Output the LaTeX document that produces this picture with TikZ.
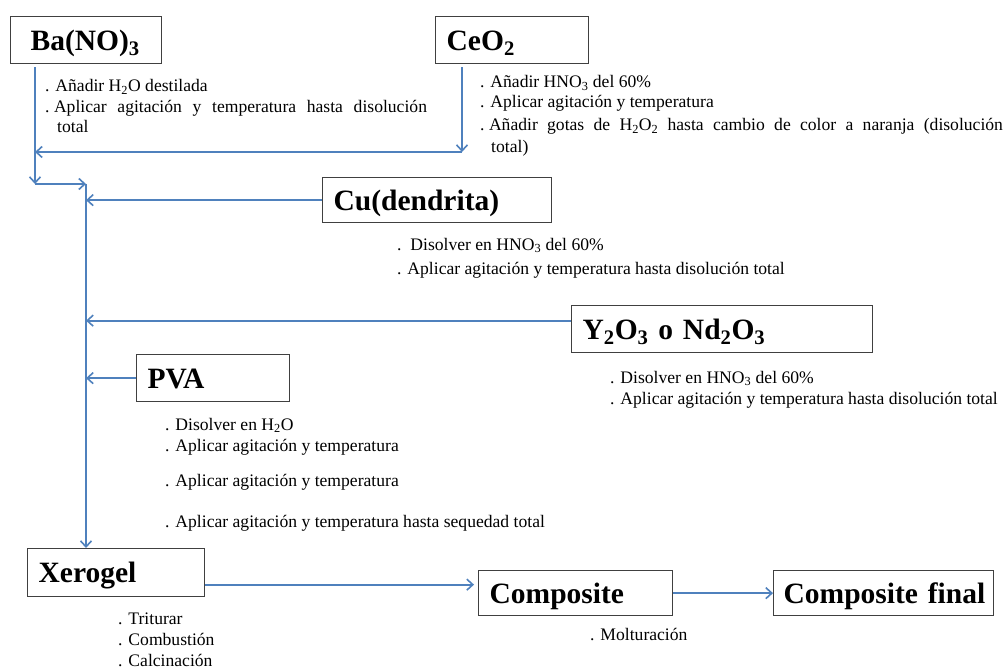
\documentclass[tikz,border=0pt]{standalone}
\usepackage{fontspec}
\setmainfont{Liberation Serif}[UprightFont={Liberation Serif}, BoldFont={Liberation Serif Bold}]
\usetikzlibrary{arrows.meta}
\definecolor{arrowblue}{RGB}{79,129,189}
\definecolor{boxgray}{RGB}{64,64,64}
\begin{document}
\begin{tikzpicture}[x=1pt,y=-1pt,
  tbox/.style={draw=boxgray, line width=1.3pt, anchor=north west, inner xsep=11pt, inner ysep=0pt, align=left,
    font=\fontsize{29.5}{32}\selectfont\bfseries, text height=24pt, text depth=4pt},
  note/.style={anchor=base west, inner sep=0pt, font=\fontsize{17.6}{21}\selectfont},
  arr/.style={draw=arrowblue, line width=1.7pt, -{Straight Barb[length=6pt,width=11pt,line width=1.6pt]}}]
\fill[white] (0,0) rectangle (1008,668);
\useasboundingbox (0,0) rectangle (1008,668);

% boxes
\node[tbox, text width=129pt, minimum height=47pt] (ba) at (10,16) {\mbox{\kern9pt Ba(NO)\textsubscript{3}}};
\node[tbox, text width=131pt, minimum height=47pt] (ce) at (435,16) {\mbox{CeO\textsubscript{2}}};
\node[tbox, text width=207pt, minimum height=45pt] (cu) at (322,177) {\mbox{Cu(dendrita)}};
\node[tbox, text width=279pt, minimum height=47pt] (yn) at (571,305) {\mbox{Y\textsubscript{2}O\textsubscript{3} o Nd\textsubscript{2}O\textsubscript{3}}};
\node[tbox, text width=131pt, minimum height=47pt] (pva) at (136,354) {\mbox{PVA}};
\node[tbox, text width=155pt, minimum height=48pt] (xe) at (27,548) {\mbox{Xerogel}};
\node[tbox, text width=172pt, minimum height=45pt] (co) at (478,570) {\mbox{Composite}};
\node[tbox, text width=200pt, minimum height=45pt, inner xsep=10pt] (cf) at (773,570) {\mbox{Composite final}};

% junctions
\coordinate (jA) at (35,152);
\coordinate (jB) at (35,184);
\coordinate (cx) at (462,152);
\coordinate (mTop) at (86,184);

% connectors
\draw[arr, shorten <=3pt] (ba.south -| jA) -- (jB);
\draw[arr, shorten <=3pt] (ce.south -| cx) -- (cx);
\draw[arr] (cx) -- (jA);
\draw[arr] (jB) -- (mTop);
\draw[arr] (mTop) -- (xe.north -| mTop);
\draw[arr] (cu.west) -- (cu.west -| mTop);
\draw[arr] ([yshift=8.5pt]yn.west) -- ([yshift=8.5pt]yn.west -| mTop);
\draw[arr] (pva.west) -- (pva.west -| mTop);
\draw[arr, shorten >=4pt] ([yshift=-12pt]xe.east) -- ([yshift=-12pt]xe.east -| co.west);
\draw[arr] (co.east) -- (cf.west);

% notes
\node[note] (ba1) at (45,92) {. Añadir H\textsubscript{2}O destilada};
\node[note] (ba2) at (45,113) {.\kern4.4pt\makebox[373pt][s]{Aplicar agitación y temperatura hasta disolución}};
\node[note] (ba3) at (57,133) {total};

\node[note] (ce1) at (480,88) {. Añadir HNO\textsubscript{3} del 60\%};
\node[note] (ce2) at (480,108) {. Aplicar agitación y temperatura};
\node[note] (ce3) at (480,131) {.\kern4.4pt\makebox[514pt][s]{Añadir gotas de H\textsubscript{2}O\textsubscript{2} hasta cambio de color a naranja (disolución}};
\node[note] (ce4) at (491,153) {total)};

\node[note] (cu1) at (397,250) {.\ \ Disolver en HNO\textsubscript{3} del 60\%};
\node[note] (cu2) at (397,274) {. Aplicar agitación y temperatura hasta disolución total};

\node[note] (yn1) at (610,383) {. Disolver en HNO\textsubscript{3} del 60\%};
\node[note] (yn2) at (610,404) {. Aplicar agitación y temperatura hasta disolución total};

\node[note] (pv1) at (165,430) {. Disolver en H\textsubscript{2}O};
\node[note] (pv2) at (165,451) {. Aplicar agitación y temperatura};
\node[note] (pv3) at (165,486) {. Aplicar agitación y temperatura};
\node[note] (pv4) at (165,527) {. Aplicar agitación y temperatura hasta sequedad total};

\node[note] (xe1) at (118,624) {. Triturar};
\node[note] (xe2) at (118,645) {. Combustión};
\node[note] (xe3) at (118,666) {. Calcinación};

\node[note] (co1) at (590,640) {. Molturación};
\end{tikzpicture}
\end{document}
